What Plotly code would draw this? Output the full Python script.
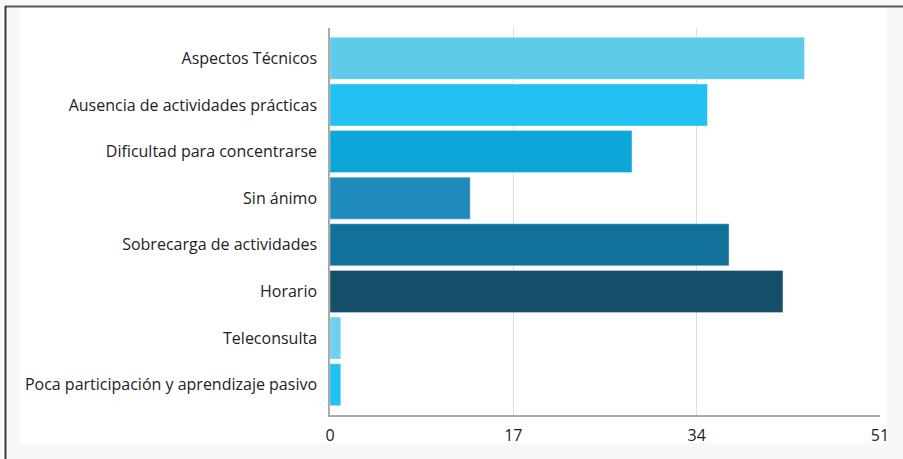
import plotly.graph_objects as go

categories = [
    "Aspectos Técnicos",
    "Ausencia de actividades prácticas",
    "Dificultad para concentrarse",
    "Sin ánimo",
    "Sobrecarga de actividades",
    "Horario",
    "Teleconsulta",
    "Poca participación y aprendizaje pasivo",
]
values = [44, 35, 28, 13, 37, 42, 1, 1]
colors = ["#5ECBEB", "#21C2F1", "#0CA5D8", "#1E8BBB", "#12719A", "#154F69", "#6DD0EE", "#21C2F1"]
tick_vals = [0, 17, 34, 51]

fig = go.Figure(go.Bar(
    y=categories, x=values, orientation="h",
    marker=dict(color=colors, line=dict(color="rgba(255,255,255,0.35)", width=1)),
    hoverinfo="skip",
))

L, R, T, B = 330, 23, 28, 44
W, H = 903, 459
pw, ph = W - L - R, H - T - B

def px(x):
    return (x - L) / pw

def py(y):
    return (H - B - y) / ph

shapes = [
    # white panel
    dict(type="rect", xref="paper", yref="paper", x0=px(20), x1=px(887), y0=py(443), y1=py(8),
         fillcolor="white", line=dict(width=0), layer="below"),
    # dark frame lines (top and left)
    dict(type="line", xref="paper", yref="paper", x0=px(5), x1=px(903), y0=py(6.5), y1=py(6.5),
         line=dict(color="#5a5a5a", width=2)),
    dict(type="line", xref="paper", yref="paper", x0=px(5.5), x1=px(5.5), y0=py(6), y1=py(459),
         line=dict(color="#3a3a3a", width=2)),
]

fig.update_layout(
    width=W, height=H,
    margin=dict(l=L, r=R, t=T, b=B),
    paper_bgcolor="#faf8f7",
    plot_bgcolor="rgba(0,0,0,0)",
    bargap=0.1,
    showlegend=False,
    font=dict(family="Open Sans, sans-serif", size=16, color="#222222"),
    shapes=shapes,
    xaxis=dict(
        range=[0, 51], tickvals=tick_vals, ticktext=[str(v) for v in tick_vals],
        showgrid=True, gridcolor="#dddddd", gridwidth=1,
        zeroline=False, showline=True, linecolor="#aaaaaa", linewidth=1.5,
        ticks="", ticklabelstandoff=5, tickfont=dict(size=16, color="#222222"),
        fixedrange=True,
    ),
    yaxis=dict(
        categoryorder="array", categoryarray=categories, autorange=False,
        range=[7.65, -0.65],
        showgrid=False, zeroline=False, showline=True, linecolor="#aaaaaa", linewidth=1.5,
        ticks="", ticklabelstandoff=8, tickfont=dict(size=16, color="#222222"),
        fixedrange=True,
    ),
)

fig.write_html("out.html", config={"displayModeBar": False})
